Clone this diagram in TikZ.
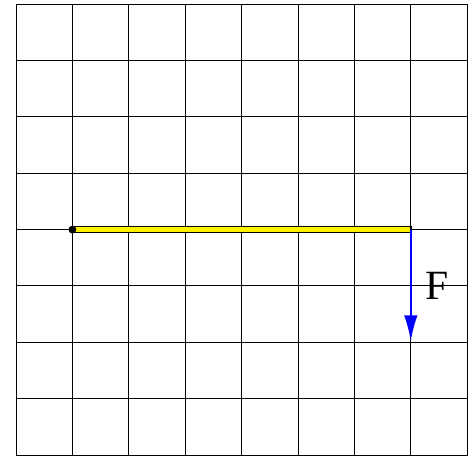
\documentclass[tikz,border=0pt]{standalone}
\usepackage{fontspec}
\setmainfont{Liberation Serif}
\usetikzlibrary{arrows.meta}
\tikzset{
  gridline/.style={draw=black, line width=0.5pt},
  barstyle/.style={draw=black, fill=yellow, line width=0.8pt},
  forcearrow/.style={draw=blue, line width=1pt, -{Latex[length=0.46cm,width=0.24cm]}},
  forcelabel/.style={font=\fontsize{21}{25}\selectfont, inner sep=0pt}
}
\begin{document}
\begin{tikzpicture}
\useasboundingbox (-0.284,-0.027) rectangle (8.103,8.071);
\draw[gridline] (0,0) grid (8,8);
\draw[gridline] (0,0) rectangle (8,8);
\coordinate (A) at (1,4);
\coordinate (B) at (7,4);
\coordinate (C) at (7,2.02);
\draw[barstyle] (1,3.945) rectangle (7,4.055);
\fill[black] (A) circle (0.07);
\draw[forcearrow] (B) -- (C);
\node[forcelabel] (F) at (7.46,3.0) {F};
\end{tikzpicture}
\end{document}
